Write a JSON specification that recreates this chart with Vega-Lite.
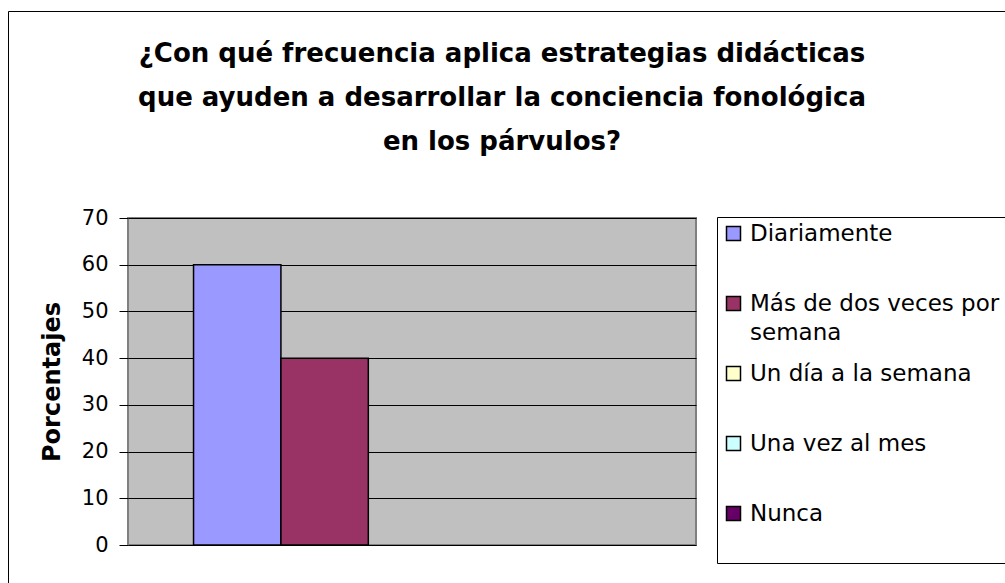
{
  "$schema": "https://vega.github.io/schema/vega-lite/v6.json",
  "width": 1005,
  "height": 583,
  "autosize": {"type": "fit", "contains": "padding"},
  "padding": {"left": 40, "top": 41, "right": 309, "bottom": 28},
  "view": {"fill": "#C0C0C0", "stroke": "#808080", "strokeWidth": 2},
  "title": {
    "text": ["¿Con qué frecuencia aplica estrategias didácticas", "que ayuden a desarrollar la conciencia fonológica", "en los párvulos?"],
    "font": "DejaVu Sans",
    "fontSize": 26,
    "fontWeight": "bold",
    "color": "black",
    "lineHeight": 44,
    "anchor": "middle",
    "frame": "group",
    "dx": 90,
    "offset": 52
  },
  "data": {
    "values": [
      {"respuesta": "Diariamente", "porcentaje": 60},
      {"respuesta": "Más de dos veces por semana", "porcentaje": 40},
      {"respuesta": "Un día a la semana", "porcentaje": 0},
      {"respuesta": "Una vez al mes", "porcentaje": 0},
      {"respuesta": "Nunca", "porcentaje": 0}
    ]
  },
  "layer": [
    {
      "transform": [{"filter": "datum.porcentaje > 0"}],
      "mark": {"type": "bar", "stroke": "black", "strokeWidth": 1.5},
      "encoding": {
        "x": {
          "field": "respuesta",
          "type": "nominal",
          "scale": {"domain": ["Diariamente", "Más de dos veces por semana", "Un día a la semana", "Una vez al mes", "Nunca"], "paddingInner": 0, "paddingOuter": 0.75},
          "axis": null
        },
        "y": {
          "field": "porcentaje",
          "type": "quantitative",
          "scale": {"domain": [0, 70], "nice": false},
          "axis": {
            "values": [0, 10, 20, 30, 40, 50, 60, 70],
            "title": "Porcentajes",
            "titleFont": "DejaVu Sans",
            "titleFontSize": 24,
            "titleFontWeight": "bold",
            "titleColor": "black",
            "titlePadding": 17,
            "labelFont": "DejaVu Sans",
            "labelFontSize": 21,
            "labelColor": "black",
            "labelPadding": 11,
            "tickColor": "black",
            "tickSize": 9,
            "domain": false,
            "grid": true,
            "gridColor": "black"
          }
        },
        "color": {
          "field": "respuesta",
          "type": "nominal",
          "scale": {
            "domain": ["Diariamente", "Más de dos veces por semana", "Un día a la semana", "Una vez al mes", "Nunca"],
            "range": ["#9999FF", "#993366", "#FFFFCC", "#CCFFFF", "#660066"]
          },
          "legend": {
            "orient": "none",
            "legendX": 589,
            "legendY": -1,
            "title": " ",
            "titleOrient": "bottom",
            "titleFontSize": 20,
            "titlePadding": 12,
            "padding": 5,
            "strokeColor": "black",
            "fillColor": "white",
            "symbolType": "square",
            "symbolSize": 196,
            "symbolStrokeColor": "black",
            "labelFont": "DejaVu Sans",
            "labelFontSize": 23,
            "labelColor": "black",
            "labelOffset": 5,
            "labelLimit": 400,
            "rowPadding": 17,
            "gridAlign": "all",
            "labelExpr": "datum.label == 'Más de dos veces por semana' ? ['Más de dos veces por', 'semana'] : datum.label",
            "encode": {"labels": {"update": {"lineHeight": {"value": 29}}}}
          }
        }
      }
    },
    {
      "data": {"values": [{"marco": "marco"}]},
      "mark": {"type": "point", "opacity": 0},
      "encoding": {
        "shape": {
          "field": "marco",
          "type": "nominal",
          "legend": {
            "orient": "none",
            "legendX": -120,
            "legendY": -207,
            "title": null,
            "padding": 600,
            "strokeColor": "black",
            "fillColor": "transparent",
            "symbolOpacity": 0,
            "labelOpacity": 0,
            "labelExpr": "''",
            "encode": {"legend": {"update": {"strokeWidth": {"value": 2}}}}
          }
        }
      }
    }
  ],
  "config": {
    "font": "DejaVu Sans",
    "view": {"fill": "#C0C0C0", "stroke": "#808080", "strokeWidth": 2}
  }
}
